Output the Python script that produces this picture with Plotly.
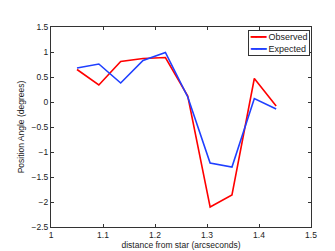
import plotly.graph_objects as go

distance = [1.050, 1.092, 1.134, 1.177, 1.220, 1.263, 1.306, 1.348, 1.391, 1.433]
observed = [0.65, 0.34, 0.81, 0.87, 0.89, 0.12, -2.10, -1.86, 0.47, -0.08]
expected = [0.68, 0.76, 0.38, 0.83, 0.99, 0.10, -1.22, -1.30, 0.07, -0.14]
series_names = ["Observed", "Expected"]
series_colors = ["#ff0000", "#1f3fff"]

font = dict(family="Liberation Sans, Arial, sans-serif", size=8.5, color="#222")

fig = go.Figure()
for name, ys, col in zip(series_names, [observed, expected], series_colors):
    fig.add_trace(go.Scatter(x=distance, y=ys, mode="lines", name=name,
                             line=dict(color=col, width=1.6), showlegend=False))

axis_common = dict(showgrid=False, zeroline=False, showline=True, linecolor="#333",
                   linewidth=1, mirror="ticks", ticks="inside", ticklen=3,
                   tickcolor="#333", tickfont=font)

legend_text = "<br>".join(
    f"<span style='color:{c}'><b>━━━</b></span> {n}" for n, c in zip(series_names, series_colors)
)

fig.update_layout(
    width=335, height=251,
    margin=dict(l=43, r=32, t=19, b=28),
    paper_bgcolor="white", plot_bgcolor="white",
    font=font,
    xaxis=dict(range=[1, 1.5], dtick=0.1, tick0=1,
               title=dict(text="distance from star (arcseconds)", font=font, standoff=1),
               **axis_common),
    yaxis=dict(range=[-2.5, 1.5], dtick=0.5, tick0=0,
               title=dict(text="Position Angle (degrees)", font=font, standoff=5),
               **axis_common),
    showlegend=False,
    annotations=[dict(
        text=legend_text, xref="paper", yref="paper", x=0.998, y=0.985,
        xanchor="right", yanchor="top", showarrow=False, align="left",
        bgcolor="white", bordercolor="#333", borderwidth=1, borderpad=1,
        font=dict(family="Liberation Sans, Arial, sans-serif", size=9, color="#222"),
    )],
)

fig.write_html("out.html")
